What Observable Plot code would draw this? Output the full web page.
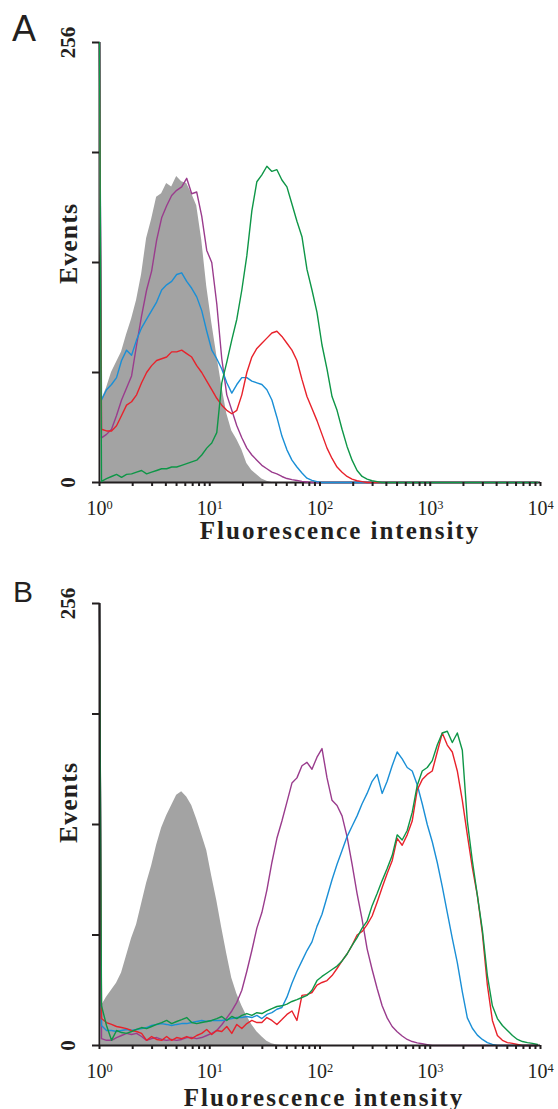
<!DOCTYPE html>
<html><head><meta charset="utf-8">
<script src="https://cdn.jsdelivr.net/npm/d3@7"></script>
<script src="https://cdn.jsdelivr.net/npm/@observablehq/plot@0.6"></script>
<style>
body{margin:0;background:#fff;width:558px;}
.panel{position:relative;width:558px;}
.letter{position:absolute;font-family:"Liberation Sans",Arial,sans-serif;color:#231f20;line-height:1;}
svg{display:block}
</style></head><body>
<div id="A" class="panel"><div class="letter" style="left:12px;top:11px;font-size:36px">A</div></div>
<div id="B" class="panel"><div class="letter" style="left:13px;top:22px;font-size:30px">B</div></div>
<script>
// ---- axis ticks / labels ----
const decadeTicks = [1, 10, 100, 1000, 10000];
const decadeBase = "10";
const decadeExponents = ["0", "1", "2", "3", "4"];
const minorMultipliers = [2, 3, 4, 5, 6, 7, 8, 9];
const yTicks = [0, 64, 128, 192, 256];
const yLabelTicks = [0, 256];
const xTitle = "Fluorescence intensity";
const yTitle = "Events";

// ---- log channels of the cytometer (88 channels) ----
const channels = d3.range(88).map(k => 10 ** ((2 + 5 * k) / 110));

// ---- Panel A: counts per channel ----
const grayA = [
48,55,64,70,76,86,95,106,121,142,
153,166,168,174,172,178,175,174,168,161,
141,114,93,74,56,40,30,25,19,11,
7,4.5,2,0.8,0,0,0,0,0,0,
0,0,0,0,0,0,0,0,0,0,
0,0,0,0,0,0,0,0,0,0,
0,0,0,0,0,0,0,0,0,0,
0,0,0,0,0,0,0,0,0,0,
0,0,0,0,0,0,0,0];
const purpleA = [
26,28,31,39,48,55,62,80,97,112,
123,141,154,161,167,170,172,177,168,169,
155,135,128,104,72,51,42,33,26,20,
16,13,10,8,6,5,3.5,2.3,1.7,1.2,
0.6,0.3,0,0,0,0,0,0,0,0,
0,0,0,0,0,0,0,0,0,0,
0,0,0,0,0,0,0,0,0,0,
0,0,0,0,0,0,0,0,0,0,
0,0,0,0,0,0,0,0];
const blueA = [
48,54,57,61,71,77,74,83,90,95,
100,105,112,115,117,121,122,117,113,108,
100,88,77,72,66,58,52,57,61,61,
59,58,57,54,48,38,27,19,13,9,
5.5,2.5,1.2,0.5,0,0,0,0,0,0,
0,0,0,0,0,0,0,0,0,0,
0,0,0,0,0,0,0,0,0,0,
0,0,0,0,0,0,0,0,0,0,
0,0,0,0,0,0,0,0];
const redA = [
31,30,30,33,39,45,47,51,58,64,
68,71,72,73,76,76,77,75,73,68,
64,59,54,49,45,42,40,42,51,64,
73,78,81,84,87,88,85,81,77,71,
60,50,43,36,28,20,14,9,6,3.5,
2,1,0.5,0,0,0,0,0,0,0,
0,0,0,0,0,0,0,0,0,0,
0,0,0,0,0,0,0,0,0,0,
0,0,0,0,0,0,0,0];
const greenA = [
0.6,2.3,3.5,4.7,3,4.7,5,6,7,5,
6,7,8,8,9,9,10,11,12,13,
16,20,23,29,58,70,83,95,112,132,
158,175,179,184,181,182,176,172,162,152,
143,124,112,99,80,66,50,42,31,21,
13,7,3.5,2,1,0.5,0,0,0,0,
0,0,0,0,0,0,0,0,0,0,
0,0,0,0,0,0,0,0,0,0,
0,0,0,0,0,0,0,0];

// ---- Panel B: counts per channel ----
const grayB = [
23,28,32,36,42,52,62,70,82,94,
104,116,126,133,139,145,147,144,139,131,
122,113,98,84,68,53,39,30,23,17,
12,8,5,2.5,1,0.3,0,0,0,0,
0,0,0,0,0,0,0,0,0,0,
0,0,0,0,0,0,0,0,0,0,
0,0,0,0,0,0,0,0,0,0,
0,0,0,0,0,0,0,0,0,0,
0,0,0,0,0,0,0,0];
const purpleB = [
4,3,3,4.6,5.8,7,6.4,7,5.2,3,
4,4.6,3.5,3,3.5,3,3.5,4.6,4.6,4,
4.6,5.8,7,8.7,12,16,20,25,32,43,
55,68,77,90,106,120,130,141,152,155,
162,164,160,167,172,155,142,139,133,121,
105,88,73,56,44,33,23,16,11,8,
5.5,3.5,2.3,1.5,1,0.5,0,0,0,0,
0,0,0,0,0,0,0,0,0,0,
0,0,0,0,0,0,0,0];
const blueB = [
11.6,8.7,8.7,8.1,8.7,9.3,8.7,9.3,9.8,10.4,
11.6,12.2,12.7,12.2,11.6,12.2,12.7,12.7,13.3,13.9,
14.5,13.9,14.5,14.5,14.5,15,15.6,16.2,16.2,16.8,
16.2,17.4,15.6,18,19,21,22,28,36,43,
49,55,60,69,76,86,96,105,113,121,
127,133,140,146,153,157,146,153,162,170,
166,161,159,151,140,128,118,106,92,77,
62,48,31,16,10,6,3.5,1.7,0.6,0,
0,0,0,0,0,0,0,0];
const redB = [
15.6,13.3,12.2,11,10.4,9.8,8.7,8.1,7,3,
5.2,3.5,3,5.2,3,4.6,4,5.2,4,5.8,
7,9.3,6.4,8.7,8.1,11,7,12.2,9.8,12.7,
14.5,13.3,13.3,16.2,14.5,12.2,15,18,20,14.5,
29,29.5,30.7,35,36.5,37.6,40.5,44.6,49,53,
58,64,66,70,75,83,91.5,99.6,107,120,
116,122,130,148,154,157,159,170,181,174,
170,159,142,122,103,87,65,35,14.5,5.8,
3,1.7,1.2,0.6,0,0,0,0];
const greenB = [
23,11.6,3,8.7,7.5,7,8.1,9.3,10.4,9.8,
11,12.2,13.3,14.5,12.7,13.9,15,16.2,13.3,12.7,
13.3,13.9,14.5,15.6,16.8,14.5,16.8,15.6,17.4,18.5,
17.4,19,18.5,20,21.4,22.6,23,24,25.5,26.6,
27.8,29,32,37.6,40,42,44,46,49,53,
58,62.5,68,72,81,88,95.5,102.5,110,122,
119,124.5,135,150.6,159,161,165,174,181,182,
175.5,181,171,130,107,87,67,40.5,23,15.6,
11.6,8.7,5.8,3.5,2.3,1.7,1.2,0.6];

// first channel (off-scale pile-up at the left edge)
const spikeA = {purple: 256, blue: 256, red: 256, green: 256};
const spikeB = {purple: 256, blue: 256, red: 256, green: 256};

const COLORS = {gray: "#a3a3a3", purple: "#9a3c8d", blue: "#1a8fd6", red: "#e8222b", green: "#0e9647"};
const SERIF = '"Liberation Serif", "Times New Roman", serif';
const INK = "#231f20";
const SVGNS = "http://www.w3.org/2000/svg";

function rows(counts, spike) {
  const r = counts.map((c, i) => ({x: channels[i], y: c}));
  if (spike != null) r.unshift({x: 1, y: spike});
  return r;
}
const minorTicks = decadeTicks.slice(0, -1).flatMap(d => minorMultipliers.map(m => m * d));
const decadeText = d => decadeBase + "^" + decadeExponents[decadeTicks.indexOf(d)];

function panel(el, cfg) {
  const lines = ["purple", "blue", "red", "green"].map(k =>
    Plot.line(rows(cfg.data[k], cfg.spike[k]), {x: "x", y: "y", stroke: COLORS[k], strokeWidth: 1.4}));
  const area = Plot.areaY(rows(cfg.data.gray), {x: "x", y: "y", fill: COLORS.gray});
  const axesLines = [
    Plot.ruleY([0], {stroke: INK, strokeWidth: 2}),
    Plot.ruleX([1], {stroke: INK, strokeWidth: 2})
  ];
  const chart = Plot.plot({
    width: 558, height: cfg.height,
    marginLeft: 99, marginRight: 18, marginTop: cfg.marginTop, marginBottom: cfg.marginBottom,
    style: {background: "transparent", overflow: "visible", fontFamily: SERIF, color: INK},
    x: {type: "log", domain: [1, 10000], label: null},
    y: {domain: [0, 256], label: null},
    marks: [
      area,
      ...(cfg.axisOnTop ? [] : axesLines),
      ...lines,
      ...(cfg.axisOnTop ? axesLines : []),
      Plot.axisY({ticks: yTicks, tickSize: 7, strokeWidth: 2, stroke: INK, tickFormat: () => ""}),
      Plot.text(yLabelTicks, {y: d => d, text: d => String(d), frameAnchor: "left", dx: -31, rotate: -90,
        textAnchor: "middle", lineAnchor: "middle", fontSize: 21, fontWeight: "bold", fill: INK}),
      Plot.axisX({ticks: minorTicks, tickSize: 4, strokeWidth: 2, stroke: INK, tickFormat: () => ""}),
      Plot.axisX({ticks: decadeTicks, tickSize: 4, strokeWidth: 2, stroke: INK, tickPadding: 14, fontSize: 20,
        fill: INK, tickFormat: decadeText}),
      Plot.text([xTitle], {text: d => d, frameAnchor: "bottom", dx: cfg.titleDx, dy: cfg.titleDy,
        lineAnchor: "middle", fontSize: 25, fontWeight: "bold", fill: INK}),
      Plot.text([yTitle], {text: d => d, frameAnchor: "left", dx: -31, dy: cfg.eventsDy, rotate: -90,
        lineAnchor: "middle", textAnchor: "middle", fontSize: 26, fontWeight: "bold", fill: INK})
    ]
  });
  d3.select(chart).selectAll("text").each(function() {
    const t = this.textContent;
    if (t === xTitle) this.style.letterSpacing = "2px";
    if (t === yTitle) this.style.letterSpacing = "1px";
    const m = /^(\d+)\^(\d+)$/.exec(t);
    if (m) {
      this.textContent = m[1];
      const sup = document.createElementNS(SVGNS, "tspan");
      sup.setAttribute("dy", "-0.5em");
      sup.setAttribute("font-size", "0.62em");
      sup.textContent = m[2];
      this.appendChild(sup);
    }
  });
  el.appendChild(chart);
}

panel(document.getElementById("A"), {
  height: 555, marginTop: 42, marginBottom: 73, axisOnTop: false,
  titleDx: 20, titleDy: 48, eventsDy: -19,
  data: {gray: grayA, purple: purpleA, blue: blueA, red: redA, green: greenA}, spike: spikeA
});
panel(document.getElementById("B"), {
  height: 554, marginTop: 48, marginBottom: 64, axisOnTop: true,
  titleDx: 4, titleDy: 52, eventsDy: -22,
  data: {gray: grayB, purple: purpleB, blue: blueB, red: redB, green: greenB}, spike: spikeB
});
</script>
</body></html>
